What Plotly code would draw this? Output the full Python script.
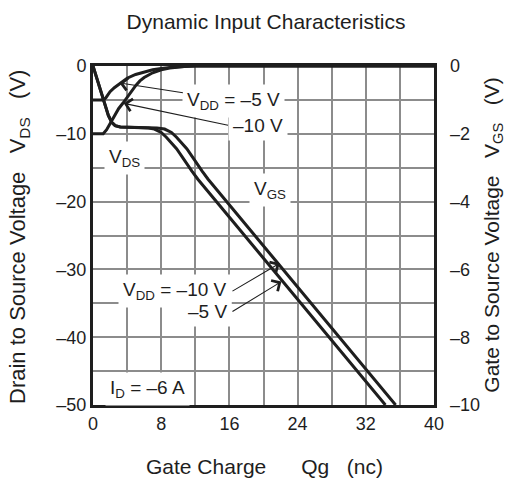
import plotly.graph_objects as go

FONT = "Liberation Sans, Arial, Helvetica, sans-serif"
INK = "#1e1e1e"
GRID = "#8c8c8c"
NB = "\u00a0"

# ---- data ----
# Drain-to-source voltage curves (left axis, V)
qg_vds_vdd5 = [0, 1.2, 1.5, 2.0, 2.5, 3.0, 3.5, 4.0, 5.0, 6.0, 7.0, 8.0, 9.0, 10.0, 12.0, 40]
vds_vdd5 = [-5, -5, -4.7, -3.8, -3.2, -2.7, -2.2, -1.8, -1.25, -0.85, -0.55, -0.35, -0.2, -0.1, 0, 0]

qg_vds_vdd10 = [0, 1.2, 1.6, 2.0, 2.5, 3.0, 3.5, 4.0, 4.5, 5.0, 5.5, 6.0, 7.0, 8.0, 9.0, 10.0, 11.0, 12.0, 40]
vds_vdd10 = [-10, -10, -9.4, -8.5, -7.3, -6.3, -5.5, -4.6, -3.7, -2.9, -2.2, -1.7, -1.0, -0.55, -0.3, -0.12, -0.04, 0, 0]

# Gate-to-source voltage curves (right axis, V)
qg_vgs_vdd5 = [0, 1.0, 1.8, 2.2, 2.6, 3.2, 5.0, 6.5, 7.2, 8.0, 8.6, 9.2, 9.8, 10.4, 10.9, 11.6, 12.3, 34.3]
vgs_vdd5 = [0, -0.84, -1.46, -1.66, -1.76, -1.80, -1.81, -1.83, -1.86, -1.96, -2.10, -2.26, -2.44,
            -2.66, -2.86, -3.10, -3.34, -10.0]

qg_vgs_vdd10 = [0, 1.0, 1.8, 2.2, 2.6, 3.2, 5.0, 6.5, 7.5, 8.4, 9.2, 9.8, 10.4, 11.0, 11.6, 12.1, 12.8, 13.5, 35.5]
vgs_vdd10 = [0, -0.84, -1.46, -1.66, -1.76, -1.80, -1.81, -1.82, -1.83, -1.86, -1.96, -2.10, -2.26,
             -2.44, -2.66, -2.86, -3.10, -3.34, -10.0]

# ticks
x_tickvals = [0, 8, 16, 24, 32, 40]
x_ticktext = ["0", "8", "16", "24", "32", "40"]
y_tickvals = [0, -10, -20, -30, -40, -50]
y_ticktext = ["0", "\u201310", "\u201320", "\u201330", "\u201340", "\u201350"]
y2_tickvals = [0, -2, -4, -6, -8, -10]
y2_ticktext = ["0", "\u20132", "\u20134", "\u20136", "\u20138", "\u201310"]

fig = go.Figure()
line = dict(color=INK, width=3)
fig.add_trace(go.Scatter(x=qg_vds_vdd5, y=vds_vdd5, mode="lines", line=line, yaxis="y",
                         showlegend=False, hoverinfo="skip"))
fig.add_trace(go.Scatter(x=qg_vds_vdd10, y=vds_vdd10, mode="lines", line=line, yaxis="y",
                         showlegend=False, hoverinfo="skip"))
fig.add_trace(go.Scatter(x=qg_vgs_vdd5, y=vgs_vdd5, mode="lines", line=line, yaxis="y2",
                         showlegend=False, hoverinfo="skip"))
fig.add_trace(go.Scatter(x=qg_vgs_vdd10, y=vgs_vdd10, mode="lines", line=line, yaxis="y2",
                         showlegend=False, hoverinfo="skip"))

ann_font = dict(family=FONT, size=19, color=INK)


def label(text, x, y, xanchor="center"):
    return dict(text=text, x=x, y=y, xref="x", yref="y", xanchor=xanchor, yanchor="middle",
                showarrow=False, bgcolor="white", borderpad=4, font=ann_font)


def arrow_label(text, x_txt, y_txt, x_tip, y_tip, xanchor):
    return dict(text=text, x=x_tip, y=y_tip, ax=x_txt, ay=y_txt, xref="x", yref="y",
                axref="x", ayref="y", xanchor=xanchor, yanchor="middle", showarrow=True,
                arrowhead=4, arrowsize=2.2, arrowwidth=1.1, arrowcolor=INK, standoff=0,
                startstandoff=0, bgcolor="white", borderpad=4, font=ann_font)


annotations = [
    arrow_label("V<sub>DD</sub> = \u20135 V", 16.53, -5.1, 3.1, -2.5, "center"),
    arrow_label("\u201310 V", 15.84, -8.75, 3.6, -5.5, "left"),
    label("V<sub>DS</sub>", 3.7, -13.6),
    label("V<sub>GS</sub>", 20.8, -18.3),
    arrow_label("V<sub>DD</sub> = \u201310 V", 16.36, -33.2, 21.9, -29.1, "right"),
    arrow_label("\u20135 V", 16.36, -36.2, 22.1, -31.8, "right"),
    label("I<sub>D</sub> = \u20136 A", 6.4, -47.6),
    # axis titles
    dict(text="Gate Charge" + NB * 6 + "Qg" + NB * 3 + "(nc)", x=0.504, y=-0.18, xref="paper", yref="paper",
         xanchor="center", yanchor="middle", showarrow=False, font=dict(family=FONT, size=21, color=INK)),
    dict(text="Drain to Source Voltage" + NB * 3 + "V<sub>DS</sub>" + NB * 3 + "(V)", x=-0.2185, y=0.497,
         xref="paper", yref="paper", xanchor="center", yanchor="middle", textangle=-90, showarrow=False,
         font=dict(family=FONT, size=22, color=INK)),
    dict(text="Gate to Source Voltage" + NB * 3 + "V<sub>GS</sub>" + NB * 3 + "(V)", x=1.172, y=0.5015,
         xref="paper", yref="paper", xanchor="center", yanchor="middle", textangle=-90, showarrow=False,
         font=dict(family=FONT, size=21, color=INK)),
]

grid_minor_x = dict(tickmode="linear", tick0=0, dtick=4, showgrid=True, gridcolor=GRID, gridwidth=1.5, ticks="")
grid_minor_y = dict(tickmode="linear", tick0=0, dtick=5, showgrid=True, gridcolor=GRID, gridwidth=1.5, ticks="")

fig.update_layout(
    width=507, height=479,
    margin=dict(l=93, r=73, t=66, b=74),
    paper_bgcolor="white", plot_bgcolor="white",
    font=dict(family=FONT, size=18, color=INK),
    title=dict(text="Dynamic Input Characteristics", x=266 / 507, xanchor="center",
               y=1 - 22 / 479, yanchor="middle", font=dict(family=FONT, size=21, color=INK)),
    xaxis=dict(range=[0, 40], tickmode="array", tickvals=x_tickvals, ticktext=x_ticktext, ticks="",
               showgrid=True, gridcolor=GRID, gridwidth=1.5, zeroline=False, minor=grid_minor_x,
               showline=True, linecolor=INK, linewidth=3, mirror=True, ticklabelstandoff=0),
    yaxis=dict(range=[-50, 0], tickmode="array", tickvals=y_tickvals, ticktext=y_ticktext, ticks="",
               showgrid=True, gridcolor=GRID, gridwidth=1.5, zeroline=False, minor=grid_minor_y,
               showline=True, linecolor=INK, linewidth=3, mirror=True, ticklabelstandoff=0),
    yaxis2=dict(range=[-10, 0], overlaying="y", side="right", tickmode="array", tickvals=y2_tickvals,
                ticktext=y2_ticktext, ticks="", showgrid=False, zeroline=False, showline=False,
                ticklabelstandoff=15),
    annotations=annotations,
)

fig.write_html("out.html")
